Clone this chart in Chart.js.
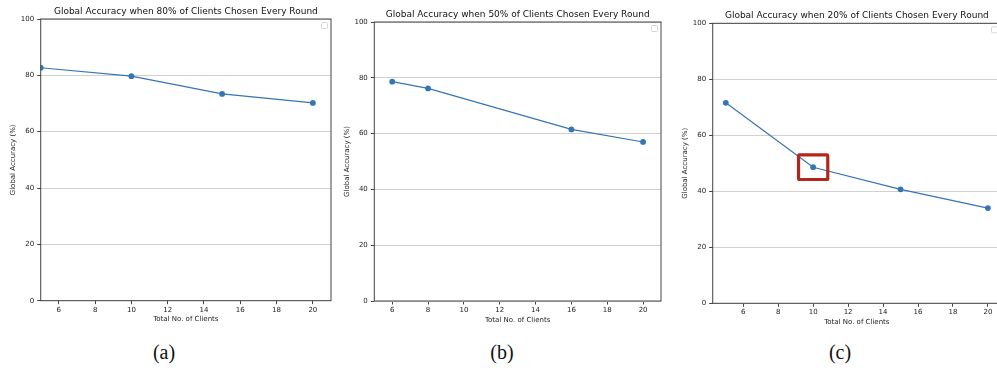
<!DOCTYPE html>
<html>
<head>
<meta charset="utf-8">
<script src="https://cdn.jsdelivr.net/npm/chart.js@4/dist/chart.umd.min.js"></script>
<style>
    body { margin: 0; background: #fff; overflow: hidden; width: 997px; height: 371px; position: relative; }
    canvas { position: absolute; top: 0; }
    .cap { position: absolute; top: 341px; width: 60px; text-align: center; font-family: "Liberation Serif", "Times New Roman", serif; font-size: 20px; line-height: 22px; color: #111; }
</style>
</head>
<body>
<canvas id="chartA" width="340" height="335" style="left:0px"></canvas>
<canvas id="chartB" width="340" height="335" style="left:334px"></canvas>
<canvas id="chartC" width="340" height="335" style="left:672px"></canvas>
<div class="cap" style="left:134px">(a)</div>
<div class="cap" style="left:472px">(b)</div>
<div class="cap" style="left:810px">(c)</div>

<script>
// datos
const clientesA = [5, 10, 15, 20];
const precisionA = [82.7, 79.7, 73.4, 70.2];

const clientesB = [6, 8, 16, 20];
const precisionB = [78.6, 76.2, 61.5, 57.0];

const clientesC = [5, 10, 15, 20];
const precisionC = [71.6, 48.6, 40.7, 34.0];

const xTicks = [6, 8, 10, 12, 14, 16, 18, 20];
const yTicks = [0, 20, 40, 60, 80, 100];

const titulos = [
    'Global Accuracy when 80% of Clients Chosen Every Round',
    'Global Accuracy when 50% of Clients Chosen Every Round',
    'Global Accuracy when 20% of Clients Chosen Every Round'
];

const azul = '#3575b5';

// marco de los ejes (spines) y la leyenda vacía de matplotlib
const marcoPlugin = {
    id: 'marco',
    afterDatasetsDraw(chart) {
        const a = chart.chartArea;
        const ctx = chart.ctx;
        ctx.save();
        ctx.strokeStyle = '#444';
        ctx.lineWidth = 1;
        ctx.strokeRect(a.left, a.top, a.right - a.left, a.bottom - a.top);
        // leyenda vacía
        ctx.strokeStyle = '#d6d6d6';
        ctx.lineWidth = 1;
        ctx.beginPath();
        ctx.roundRect(a.right - 9.5, a.top + 3.5, 6, 6, 1);
        ctx.stroke();
        ctx.restore();
    }
};

// recuadro rojo alrededor de un punto
const resaltePlugin = {
    id: 'resalte',
    afterDatasetsDraw(chart, args, opts) {
        if (opts.index === undefined) return;
        const p = chart.getDatasetMeta(0).data[opts.index];
        const ctx = chart.ctx;
        ctx.save();
        ctx.strokeStyle = '#b3261c';
        ctx.lineWidth = 3.2;
        ctx.beginPath();
        ctx.roundRect(p.x - 14.6, p.y - 12.3, 29.2, 24.6, 1);
        ctx.stroke();
        ctx.restore();
    }
};

function crearGrafico(id, xs, ys, titulo, xMin, xMax, area, resalte) {
    const ctx = document.getElementById(id).getContext('2d');
    const puntos = xs.map((x, i) => ({x: x, y: ys[i]}));
    return new Chart(ctx, {
        type: 'line',
        data: {
            datasets: [{
                data: puntos,
                borderColor: azul,
                backgroundColor: azul,
                borderWidth: 1.2,
                pointRadius: 2.9,
                pointBorderWidth: 0,
                pointBackgroundColor: azul,
                tension: 0
            }]
        },
        options: {
            responsive: false,
            animation: false,
            devicePixelRatio: 1,
            layout: {padding: {top: 0, left: 0, right: area.right, bottom: 0}},
            plugins: {
                legend: {display: false},
                tooltip: {enabled: false},
                title: {
                    display: true,
                    text: titulo,
                    fullSize: false,
                    color: '#111',
                    font: {family: 'DejaVu Sans', size: 9, weight: 'normal', lineHeight: 1.2},
                    padding: {top: area.top - 13.1, bottom: 2.3}
                },
                resalte: {index: resalte}
            },
            scales: {
                x: {
                    type: 'linear',
                    min: xMin,
                    max: xMax,
                    afterBuildTicks: s => { s.ticks = xTicks.map(v => ({value: v})); },
                    afterFit: s => { s.height = area.xh; },
                    border: {display: false},
                    grid: {drawOnChartArea: false, drawTicks: true, tickLength: 3.5, tickColor: '#444'},
                    ticks: {color: '#222', padding: 1.5, maxRotation: 0, font: {family: 'DejaVu Sans', size: 7}},
                    title: {display: true, text: 'Total No. of Clients', color: '#222',
                        font: {family: 'DejaVu Sans', size: 7}, padding: {top: 0, bottom: area.tb}}
                },
                y: {
                    min: 0,
                    max: 100,
                    afterBuildTicks: s => { s.ticks = yTicks.map(v => ({value: v})); },
                    afterFit: s => { s.width = area.yw; },
                    border: {display: false},
                    grid: {color: '#d0d0d0', lineWidth: 1, tickLength: 3.5, tickColor: '#444'},
                    ticks: {color: '#222', padding: 3, font: {family: 'DejaVu Sans', size: 7}},
                    title: {display: true, text: 'Global Accuracy (%)', color: '#222',
                        font: {family: 'DejaVu Sans', size: 7}, padding: {top: 9, bottom: 0}}
                }
            }
        },
        plugins: [marcoPlugin, resaltePlugin]
    });
}

crearGrafico('chartA', clientesA, precisionA, titulos[0], 5, 21,
    {top: 19, right: 9, yw: 40.7, xh: 335 - 300.7, tb: 11.3});
crearGrafico('chartB', clientesB, precisionB, titulos[1], 5, 21,
    {top: 22, right: 13, yw: 40.3, xh: 335 - 301, tb: 10.8});
crearGrafico('chartC', clientesC, precisionC, titulos[2], 4.25, 20.75,
    {top: 23.3, right: 11, yw: 40.7, xh: 335 - 303.3, tb: 8.8}, 1);
</script>
</body>
</html>
